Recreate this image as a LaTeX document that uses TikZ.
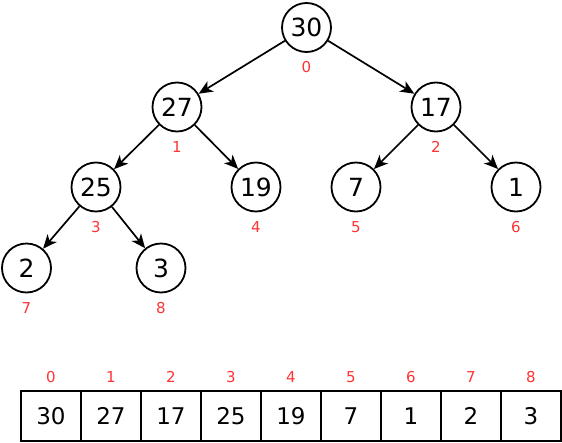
\documentclass[tikz,border=0pt]{standalone}
\usepackage{fontspec}
\setmainfont{DejaVu Sans}
\usetikzlibrary{arrows.meta}
\definecolor{idxred}{RGB}{255,51,51}
\begin{document}
\begin{tikzpicture}[x=1pt,y=-1pt,
  hnode/.style={circle,draw,line width=1.8pt,minimum size=49pt,inner sep=0pt,font=\fontsize{25}{29}\selectfont},
  idx/.style={text=idxred,font=\fontsize{15}{18}\selectfont,inner sep=0pt},
  cell/.style={draw,line width=1.8pt,minimum width=60pt,minimum height=50pt,inner sep=0pt,font=\fontsize{23}{27}\selectfont},
  edge/.style={line width=1.7pt,-{Stealth[length=14pt,width=12pt,inset=4pt]}}]
\useasboundingbox (0,0) rectangle (562,442);
\node[hnode] (n0) at (306.5,27.5) {30};
\node[hnode] (n1) at (177,107) {27};
\node[hnode] (n2) at (436,107) {17};
\node[hnode] (n3) at (96,187) {25};
\node[hnode] (n4) at (256,187) {19};
\node[hnode] (n5) at (356,187) {7};
\node[hnode] (n6) at (516,187) {1};
\node[hnode] (n7) at (26.5,268) {2};
\node[hnode] (n8) at (161,268) {3};
\node[idx] (i0) at (306.5,67) {0};
\node[idx] (i1) at (177,147) {1};
\node[idx] (i2) at (436,147) {2};
\node[idx] (i3) at (96,227) {3};
\node[idx] (i4) at (256,227) {4};
\node[idx] (i5) at (356,227) {5};
\node[idx] (i6) at (516,227) {6};
\node[idx] (i7) at (26.5,308) {7};
\node[idx] (i8) at (161,308) {8};
\draw[edge] (n0) -- (n1);
\draw[edge] (n0) -- (n2);
\draw[edge] (n1) -- (n3);
\draw[edge] (n1) -- (n4);
\draw[edge] (n2) -- (n5);
\draw[edge] (n2) -- (n6);
\draw[edge] (n3) -- (n7);
\draw[edge] (n3) -- (n8);
\foreach \v [count=\i from 0] in {30,27,17,25,19,7,1,2,3} {
  \node[cell] (c\i) at (51+60*\i,416) {\v};
  \node[idx] (a\i) at (51+60*\i,377) {\i};
}
\end{tikzpicture}
\end{document}
